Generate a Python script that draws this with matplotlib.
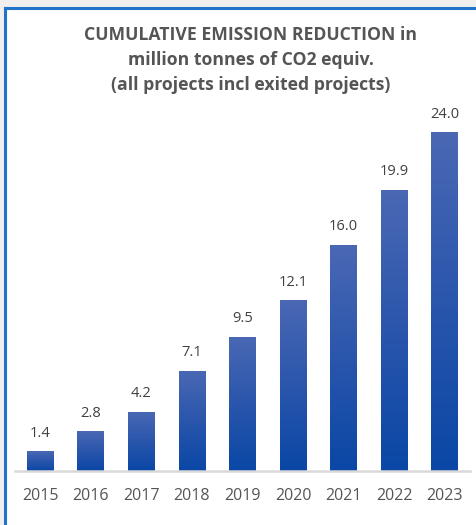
import numpy as np
import matplotlib.pyplot as plt
from matplotlib.colors import LinearSegmentedColormap
from matplotlib.patches import Rectangle

# data
years = ["2015", "2016", "2017", "2018", "2019", "2020", "2021", "2022", "2023"]
reduction = [1.4, 2.8, 4.2, 7.1, 9.5, 12.1, 16.0, 19.9, 24.0]

TEXT = "#555555"
plt.rcParams["font.family"] = ["Open Sans", "DejaVu Sans"]

W, H = 477, 525
fig = plt.figure(figsize=(W / 100, H / 100), dpi=100)
fig.patch.set_facecolor("white")

# grey page strips outside the blue frame (top and left)
fig.add_artist(Rectangle((0, (H - 7) / H), 1, 7 / H, transform=fig.transFigure,
                         facecolor="#efefef", edgecolor="none"))
fig.add_artist(Rectangle((0, 0), 4 / W, 1, transform=fig.transFigure,
                         facecolor="#efefef", edgecolor="none"))
fig.add_artist(plt.Line2D([5 / W, 5 / W], [0, (H - 8) / H], color="#1f73c8",
                          lw=2.2, transform=fig.transFigure))
fig.add_artist(plt.Line2D([5 / W, 1], [(H - 8) / H, (H - 8) / H], color="#1f73c8",
                          lw=2.2, transform=fig.transFigure))

ax = fig.add_axes([15 / W, 54 / H, 455 / W, 26 * 14.12 / H])
ax.set_facecolor("none")

cmap = LinearSegmentedColormap.from_list("bar", ["#0a47a6", "#2a56ac", "#4a68b4"])
grad = np.linspace(0, 1, 256).reshape(-1, 1)
x = np.arange(len(years))
bars = ax.bar(x, reduction, width=0.53, color="none", zorder=2)
for b, v in zip(bars, reduction):
    x0 = b.get_x()
    im = ax.imshow(grad, cmap=cmap, origin="lower", aspect="auto",
                   extent=[x0, x0 + b.get_width(), 0, v], zorder=2)
    im.set_clip_path(b)
    ax.text(b.get_x() + b.get_width() / 2, v + 0.75, f"{v:.1f}",
            ha="center", va="bottom", fontsize=10.5, color="#404040")
ax.set_xlim(-0.5, len(years) - 0.5)
ax.set_ylim(0, 26)

for s in ["top", "right", "left"]:
    ax.spines[s].set_visible(False)
ax.spines["bottom"].set_color("#d9d9d9")
ax.spines["bottom"].set_linewidth(1.8)
ax.set_yticks([])
ax.set_xticks(x)
ax.set_xticklabels(years, fontsize=11.5, color=TEXT)
ax.tick_params(axis="x", length=0, pad=12)

fig.text(251 / W, 1 - 60 / H,
         "CUMULATIVE EMISSION REDUCTION in\nmillion tonnes of CO2 equiv.\n(all projects incl exited projects)",
         ha="center", va="center", fontsize=12.7, fontweight="bold",
         color=TEXT, linespacing=1.5)

fig.savefig("out.png", dpi=100, facecolor=fig.get_facecolor())
